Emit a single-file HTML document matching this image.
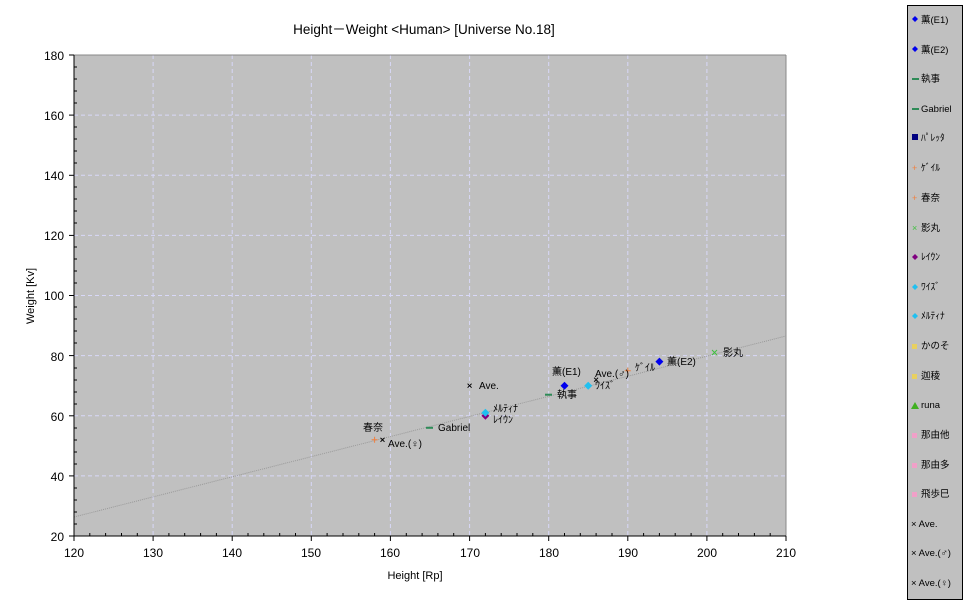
<!DOCTYPE html><html><head><meta charset="utf-8"><style>body{margin:0;background:#fff}svg{display:block}text{font-family:"Liberation Sans","Noto Sans CJK JP",sans-serif;font-size:10px;fill:#000}</style></head><body>
<svg width="970" height="604" viewBox="0 0 970 604" xmlns="http://www.w3.org/2000/svg">
<text x="424" y="34" text-anchor="middle" style="font-size:13.5px">Height－Weight &lt;Human&gt; [Universe No.18]</text>
<rect x="74" y="55" width="712" height="481" fill="#c0c0c0"/>
<g stroke="#d8d8f8" stroke-dasharray="4,3" stroke-width="1">
<line x1="153.1" y1="55" x2="153.1" y2="536"/><line x1="232.2" y1="55" x2="232.2" y2="536"/><line x1="311.3" y1="55" x2="311.3" y2="536"/><line x1="390.4" y1="55" x2="390.4" y2="536"/><line x1="469.6" y1="55" x2="469.6" y2="536"/><line x1="548.7" y1="55" x2="548.7" y2="536"/><line x1="627.8" y1="55" x2="627.8" y2="536"/><line x1="706.9" y1="55" x2="706.9" y2="536"/>
<line x1="74" y1="115.1" x2="786" y2="115.1"/><line x1="74" y1="175.3" x2="786" y2="175.3"/><line x1="74" y1="235.4" x2="786" y2="235.4"/><line x1="74" y1="295.5" x2="786" y2="295.5"/><line x1="74" y1="355.6" x2="786" y2="355.6"/><line x1="74" y1="415.8" x2="786" y2="415.8"/><line x1="74" y1="475.9" x2="786" y2="475.9"/>
</g>
<line x1="74" y1="517" x2="786" y2="336" stroke="#999" stroke-dasharray="1,1"/>
<line x1="74" y1="55" x2="786" y2="55" stroke="#888"/><line x1="786" y1="55" x2="786" y2="536" stroke="#888"/>
<g stroke="#000">
<line x1="74" y1="55" x2="74" y2="537"/><line x1="73" y1="536" x2="786" y2="536"/>
</g>
<g fill="#000" text-anchor="end">
<text x="64" y="60" style="font-size:12px">180</text><text x="64" y="120" style="font-size:12px">160</text><text x="64" y="180" style="font-size:12px">140</text><text x="64" y="240" style="font-size:12px">120</text><text x="64" y="300" style="font-size:12px">100</text><text x="64" y="361" style="font-size:12px">80</text><text x="64" y="421" style="font-size:12px">60</text><text x="64" y="481" style="font-size:12px">40</text><text x="64" y="541" style="font-size:12px">20</text>
</g>
<g text-anchor="middle">
<text x="74" y="557" style="font-size:12px">120</text><text x="153" y="557" style="font-size:12px">130</text><text x="232" y="557" style="font-size:12px">140</text><text x="311" y="557" style="font-size:12px">150</text><text x="390" y="557" style="font-size:12px">160</text><text x="470" y="557" style="font-size:12px">170</text><text x="549" y="557" style="font-size:12px">180</text><text x="628" y="557" style="font-size:12px">190</text><text x="707" y="557" style="font-size:12px">200</text><text x="786" y="557" style="font-size:12px">210</text>
<text x="415" y="579" style="font-size:11px">Height [Rp]</text>
</g>
<text transform="translate(34,296) rotate(-90)" text-anchor="middle" style="font-size:11px">Weight [Kv]</text>
<g>
<path d="M564.5 381.7 l4 4 -4 4 -4 -4z" fill="#0000ee"/>
<path d="M659.4 357.6 l4 4 -4 4 -4 -4z" fill="#0000ee"/>
<rect x="545" y="393.7" width="7" height="2" fill="#2e8b57"/>
<rect x="426" y="426.8" width="7" height="2" fill="#2e8b57"/>
<path d="M624.8 370.7h6M627.8 367.7v6" stroke="#f08040"/>
<path d="M371.6 439.8h6M374.6 436.8v6" stroke="#f08040"/>
<path d="M712 350l5 5M717 350l-5 5" stroke="#40c040"/>
<path d="M485.4 411.8 l4 4 -4 4 -4 -4z" fill="#800080"/>
<path d="M485.4 408.8 l4 4 -4 4 -4 -4z" fill="#20c0f0"/>
<path d="M588.2 381.7 l4 4 -4 4 -4 -4z" fill="#20c0f0"/>
<path d="M467.6 383.7l4 4M471.6 383.7l-4 4M594.1 377.7l4 4M598.1 377.7l-4 4M380.5 437.8l4 4M384.5 437.8l-4 4" stroke="#000"/>
</g>
<g>
<text x="552" y="375">薫(E1)</text><text x="667" y="365">薫(E2)</text><text x="557" y="398">執事</text><text x="438" y="431">Gabriel</text><text x="635" y="371">ｹﾞｲﾙ</text><text x="363" y="431">春奈</text><text x="723" y="356">影丸</text><text x="493" y="423">ﾚｲｳﾝ</text><text x="493" y="412">ﾒﾙﾃｨﾅ</text><text x="595" y="389">ﾜｲｽﾞ</text><text x="479" y="389">Ave.</text><text x="595" y="377">Ave.(♂)</text><text x="388" y="447">Ave.(♀)</text>
</g>
<rect x="907.5" y="5.5" width="55" height="594" fill="#c0c0c0" stroke="#000"/>
<g>
<path d="M915 16l3 3-3 3-3-3z" fill="#0000ee"/><text x="921" y="23" style="font-size:9.5px">薫(E1)</text>
<path d="M915 46l3 3-3 3-3-3z" fill="#0000ee"/><text x="921" y="53" style="font-size:9.5px">薫(E2)</text>
<rect x="912" y="78" width="7" height="2" fill="#2e8b57"/><text x="921" y="82" style="font-size:9.5px">執事</text>
<rect x="912" y="108" width="7" height="2" fill="#2e8b57"/><text x="921" y="112" style="font-size:9.5px">Gabriel</text>
<rect x="912" y="134" width="6" height="6" fill="#000080"/><text x="921" y="141" style="font-size:9.5px">ﾊﾟﾚｯﾀ</text>
<text x="912" y="171" style="font-size:9px;fill:#f08040">+</text><text x="921" y="171" style="font-size:9.5px">ｹﾞｲﾙ</text>
<text x="912" y="201" style="font-size:9px;fill:#f08040">+</text><text x="921" y="201" style="font-size:9.5px">春奈</text>
<text x="912" y="231" style="font-size:9px;fill:#40c040">×</text><text x="921" y="231" style="font-size:9.5px">影丸</text>
<path d="M915 254l3 3-3 3-3-3z" fill="#800080"/><text x="921" y="260" style="font-size:9.5px">ﾚｲｳﾝ</text>
<path d="M915 284l3 3-3 3-3-3z" fill="#20c0f0"/><text x="921" y="290" style="font-size:9.5px">ﾜｲｽﾞ</text>
<path d="M915 313l3 3-3 3-3-3z" fill="#20c0f0"/><text x="921" y="319" style="font-size:9.5px">ﾒﾙﾃｨﾅ</text>
<rect x="912" y="344" width="5" height="5" fill="#e8d060"/><text x="921" y="349" style="font-size:9.5px">かのそ</text>
<rect x="912" y="374" width="5" height="5" fill="#e8d060"/><text x="921" y="379" style="font-size:9.5px">迦稜</text>
<path d="M911 409l4-7 4 7z" fill="#40b020"/><text x="921" y="408" style="font-size:9.5px">runa</text>
<rect x="912" y="433" width="5" height="5" fill="#f0a0c8"/><text x="921" y="438" style="font-size:9.5px">那由他</text>
<rect x="912" y="463" width="5" height="5" fill="#f0a0c8"/><text x="921" y="468" style="font-size:9.5px">那由多</text>
<rect x="912" y="492" width="5" height="5" fill="#f0a0c8"/><text x="921" y="497" style="font-size:9.5px">飛歩巳</text>
<text x="911" y="527" style="font-size:9.5px">× Ave.</text>
<text x="911" y="556" style="font-size:9.5px">× Ave.(♂)</text>
<text x="911" y="586" style="font-size:9.5px">× Ave.(♀)</text>
</g>
<g stroke="#000">
<line x1="69" y1="55" x2="74" y2="55"/><line x1="69" y1="115.1" x2="74" y2="115.1"/><line x1="69" y1="175.3" x2="74" y2="175.3"/><line x1="69" y1="235.4" x2="74" y2="235.4"/><line x1="69" y1="295.5" x2="74" y2="295.5"/><line x1="69" y1="355.6" x2="74" y2="355.6"/><line x1="69" y1="415.8" x2="74" y2="415.8"/><line x1="69" y1="475.9" x2="74" y2="475.9"/><line x1="69" y1="536" x2="74" y2="536"/>
<line x1="153.1" y1="536" x2="153.1" y2="541"/><line x1="232.2" y1="536" x2="232.2" y2="541"/><line x1="311.3" y1="536" x2="311.3" y2="541"/><line x1="390.4" y1="536" x2="390.4" y2="541"/><line x1="469.6" y1="536" x2="469.6" y2="541"/><line x1="548.7" y1="536" x2="548.7" y2="541"/><line x1="627.8" y1="536" x2="627.8" y2="541"/><line x1="706.9" y1="536" x2="706.9" y2="541"/><line x1="786" y1="536" x2="786" y2="541"/><line x1="74" y1="536" x2="74" y2="541"/>
<path d="M74 67h3M74 79h3M74 91h3M74 103h3M74 127h3M74 139h3M74 151h3M74 163h3M74 187h3M74 199h3M74 211h3M74 223h3M74 247h3M74 259h3M74 271h3M74 283h3M74 307h3M74 319h3M74 331h3M74 343h3M74 368h3M74 380h3M74 392h3M74 404h3M74 428h3M74 440h3M74 452h3M74 464h3M74 488h3M74 500h3M74 512h3M74 524h3"/>
<path d="M89.8 536v-3M105.6 536v-3M121.5 536v-3M137.3 536v-3M168.9 536v-3M184.7 536v-3M200.6 536v-3M216.4 536v-3M248 536v-3M263.8 536v-3M279.7 536v-3M295.5 536v-3M327.1 536v-3M343 536v-3M358.8 536v-3M374.6 536v-3M406.3 536v-3M422.1 536v-3M437.9 536v-3M453.7 536v-3M485.4 536v-3M501.2 536v-3M517 536v-3M532.8 536v-3M564.5 536v-3M580.3 536v-3M596.1 536v-3M612 536v-3M643.6 536v-3M659.4 536v-3M675.2 536v-3M691.1 536v-3M722.7 536v-3M738.5 536v-3M754.4 536v-3M770.2 536v-3"/>
</g>
</svg>
</body></html>
